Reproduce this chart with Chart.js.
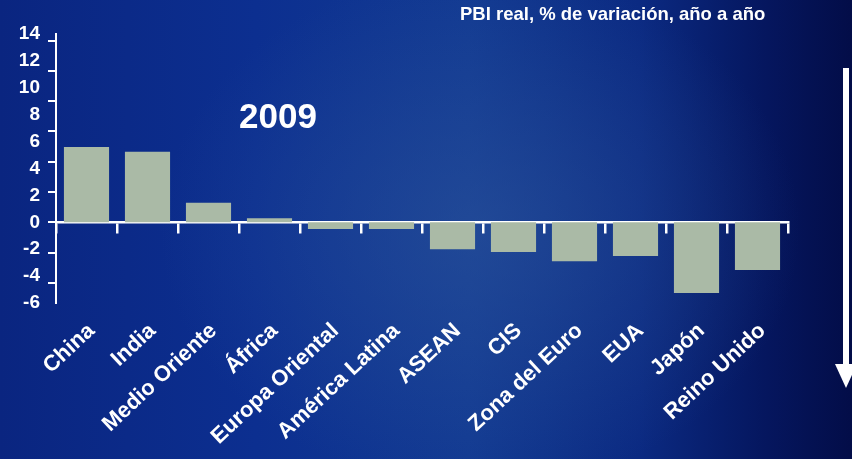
<!DOCTYPE html>
<html>
<head>
<meta charset="utf-8">
<script src="https://cdn.jsdelivr.net/npm/chart.js@4/dist/chart.umd.min.js"></script>
<style>
  html, body { margin: 0; padding: 0; }
  body {
    width: 852px; height: 459px; overflow: hidden; position: relative;
    font-family: "Liberation Sans", Arial, sans-serif;
    background:
      radial-gradient(ellipse 320px 260px at 480px 230px, rgba(45, 85, 155, 0.55), rgba(45, 85, 155, 0) 100%),
      linear-gradient(to right, #0a2580 0%, #0c2f90 30%, #123a92 55%, #0b2a82 75%, #05165e 90%, #030d48 100%);
  }
  #wrap { position: absolute; left: 0; top: 0; width: 852px; height: 459px; }
  .header {
    position: absolute; left: 460px; top: 3px; color: #fff;
    font-weight: bold; font-size: 18.5px; white-space: nowrap;
  }
  .year {
    position: absolute; left: 239px; top: 96px; color: #fff;
    font-weight: bold; font-size: 35px;
  }
  .arrow-line {
    position: absolute; left: 843px; top: 68px; width: 6px; height: 297px; background: #fff;
  }
  .arrow-head {
    position: absolute; left: 835px; top: 364px; width: 0; height: 0;
    border-left: 11px solid transparent; border-right: 11px solid transparent;
    border-top: 24px solid #fff;
  }
</style>
</head>
<body>
<div id="wrap"><canvas id="gdpChart" width="852" height="459"></canvas></div>
<div class="header">PBI real, % de variación, año a año</div>
<div class="year">2009</div>
<div class="arrow-line"></div>
<div class="arrow-head"></div>
<script>
const regions = ['China', 'India', 'Medio Oriente', 'África', 'Europa Oriental', 'América Latina',
  'ASEAN', 'CIS', 'Zona del Euro', 'EUA', 'Japón', 'Reino Unido'];
const growth2009 = [5.6, 5.25, 1.45, 0.3, -0.5, -0.5, -2.0, -2.2, -2.9, -2.5, -5.25, -3.55];
const yTicks = [-6, -4, -2, 0, 2, 4, 6, 8, 10, 12, 14];

Chart.defaults.font.family = '"Liberation Sans", Arial, sans-serif';
Chart.defaults.font.weight = 'bold';

const ctx = document.getElementById('gdpChart').getContext('2d');

new Chart(ctx, {
  type: 'bar',
  data: {
    labels: regions,
    datasets: [{
      label: 'PBI real 2009',
      data: growth2009,
      backgroundColor: '#aabaa6',
      borderWidth: 0,
      barPercentage: 0.74,
      categoryPercentage: 1.0,
      xAxisID: 'x',
      yAxisID: 'y'
    }]
  },
  options: {
    responsive: false,
    animation: false,
    layout: { padding: { top: 34, right: 64, left: 0, bottom: 0 } },
    plugins: { legend: { display: false }, tooltip: { enabled: false } },
    scales: {
      y: {
        position: 'left',
        weight: 1,
        min: -6,
        max: 14,
        afterBuildTicks: (scale) => { scale.ticks = yTicks.map(v => ({ value: v })); },
        afterFit: (scale) => { scale.width = 46; },
        grid: { display: false, drawTicks: false },
        border: { display: false },
        ticks: { color: '#fff', font: { size: 19, weight: 'bold' }, padding: 6 }
      },
      y2: {
        position: 'left',
        weight: 0,
        min: -5.33,
        max: 12.43,
        afterFit: (scale) => { scale.width = 10; },
        grid: { drawOnChartArea: false, color: '#fff', lineWidth: 2, tickLength: 8 },
        border: { display: true, color: '#fff', width: 2 },
        ticks: { display: false, stepSize: 2, includeBounds: false }
      },
      x: {
        position: { y: 0 },
        offset: true,
        grid: { drawOnChartArea: false, offset: true, color: '#fff', lineWidth: 2.5, tickLength: 10 },
        border: { display: true, color: '#fff', width: 2.5 },
        ticks: { display: false }
      },
      x2: {
        position: 'bottom',
        type: 'category',
        offset: true,
        afterFit: (scale) => { scale.height = 156; },
        grid: { display: false, drawTicks: false },
        border: { display: false },
        ticks: {
          color: '#fff',
          font: { size: 22, weight: 'bold' },
          minRotation: 43,
          maxRotation: 43,
          autoSkip: false,
          padding: 15,
          labelOffset: 5
        }
      }
    }
  }
});
</script>
</body>
</html>
